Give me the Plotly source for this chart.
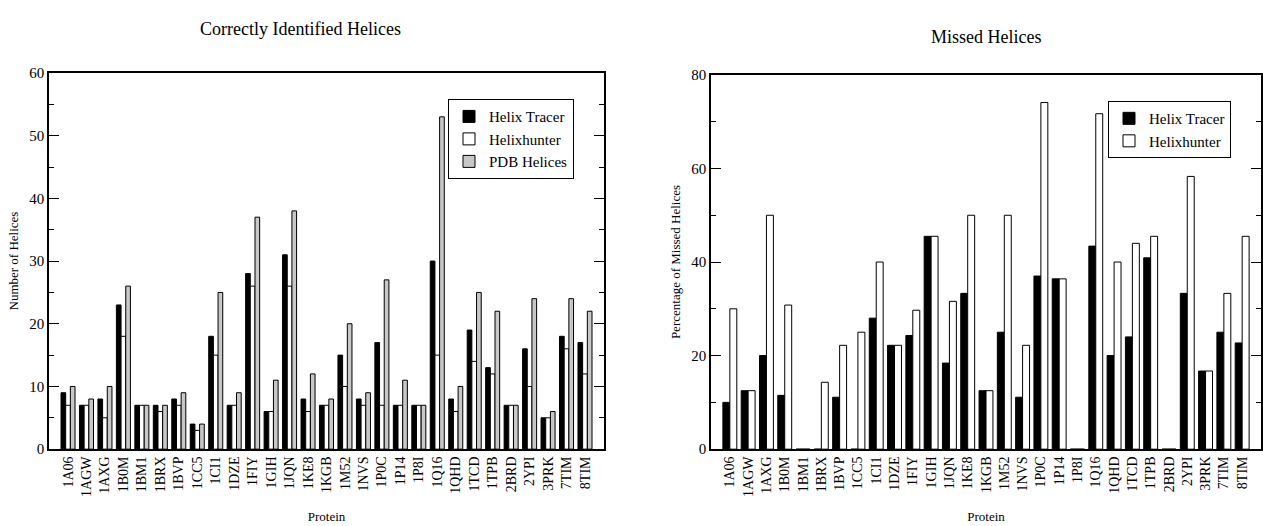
import plotly.graph_objects as go

proteins = ["1A06", "1AGW", "1AXG", "1B0M", "1BM1", "1BRX", "1BVP", "1CC5", "1CI1", "1DZE",
            "1FIY", "1GIH", "1JQN", "1KE8", "1KGB", "1M52", "1NVS", "1P0C", "1P14", "1P8I",
            "1Q16", "1QHD", "1TCD", "1TPB", "2BRD", "2YPI", "3PRK", "7TIM", "8TIM"]

tracer_found = [9, 7, 8, 23, 7, 7, 8, 4, 18, 7, 28, 6, 31, 8, 7, 15, 8, 17, 7, 7,
                30, 8, 19, 13, 7, 16, 5, 18, 17]
hunter_found = [7, 7, 5, 18, 7, 6, 7, 3, 15, 7, 26, 6, 26, 6, 7, 10, 7, 7, 7, 7,
                15, 6, 14, 12, 7, 10, 5, 16, 12]
pdb_helices = [10, 8, 10, 26, 7, 7, 9, 4, 25, 9, 37, 11, 38, 12, 8, 20, 9, 27, 11, 7,
               53, 10, 25, 22, 7, 24, 6, 24, 22]

tracer_missed = [10, 12.5, 20, 11.5, 0, 0, 11.1, 0, 28, 22.2, 24.3, 45.5, 18.4, 33.3, 12.5,
                 25, 11.1, 37, 36.4, 0, 43.4, 20, 24, 40.9, 0, 33.3, 16.7, 25, 22.7]
hunter_missed = [30, 12.5, 50, 30.8, 0, 14.3, 22.2, 25, 40, 22.2, 29.7, 45.5, 31.6, 50, 12.5,
                 50, 22.2, 74.1, 36.4, 0, 71.7, 40, 44, 45.5, 0, 58.3, 16.7, 33.3, 45.5]

xs = list(range(len(proteins)))
FONT = "Liberation Serif"

fig = go.Figure()
line = dict(color="black", width=1)

fig.add_trace(go.Bar(x=xs, y=tracer_found, name="Helix Tracer", marker=dict(color="black", line=line),
                     xaxis="x", yaxis="y", legend="legend", offsetgroup="a"))
fig.add_trace(go.Bar(x=xs, y=hunter_found, name="Helixhunter", marker=dict(color="white", line=line),
                     xaxis="x", yaxis="y", legend="legend", offsetgroup="b"))
fig.add_trace(go.Bar(x=xs, y=pdb_helices, name="PDB Helices",
                     marker=dict(color="white", line=line,
                                 pattern=dict(shape=".", fgcolor="#6a6a6a", bgcolor="#e0e0e0",
                                              size=2, solidity=0.5)),
                     xaxis="x", yaxis="y", legend="legend", offsetgroup="c"))

fig.add_trace(go.Bar(x=xs, y=tracer_missed, name="Helix Tracer", marker=dict(color="black", line=line),
                     xaxis="x2", yaxis="y2", legend="legend2", offsetgroup="a"))
fig.add_trace(go.Bar(x=xs, y=hunter_missed, name="Helixhunter", marker=dict(color="white", line=line),
                     xaxis="x2", yaxis="y2", legend="legend2", offsetgroup="b"))

xcommon = dict(tickmode="array", tickvals=xs, ticktext=proteins, tickangle=-90, range=[-1.03, 29.03],
               showline=True, linecolor="black", linewidth=1.5, mirror=True, ticks="",
               showgrid=False, zeroline=False,
               tickfont=dict(family=FONT, size=14, color="black"),
               title=dict(text="Protein", font=dict(family=FONT, size=13, color="black"), standoff=16))

ycommon = dict(showline=True, linecolor="black", linewidth=1.5, mirror="ticks", ticks="inside",
               ticklen=10, tickcolor="black", showgrid=False, zeroline=False,
               tickfont=dict(family=FONT, size=15, color="black"))

fig.update_layout(
    width=1263, height=526,
    margin=dict(l=0, r=0, t=0, b=0),
    paper_bgcolor="white", plot_bgcolor="white",
    barmode="group", bargap=0.24, bargroupgap=0,
    font=dict(family=FONT, color="black"),
    showlegend=True,
    xaxis=dict(domain=[49 / 1263, 604 / 1263], anchor="y", **xcommon),
    yaxis=dict(domain=[71 / 526, 459 / 526], anchor="x", range=[0, 60], dtick=10,
               minor=dict(ticks="inside", ticklen=5, dtick=5, tickcolor="black"),
               title=dict(text="Number of Helices", font=dict(family=FONT, size=13, color="black"),
                          standoff=8),
               **ycommon),
    xaxis2=dict(domain=[711 / 1263, 1261 / 1263], anchor="y2", **xcommon),
    yaxis2=dict(domain=[71 / 526, 457 / 526], anchor="x2", range=[0, 80], dtick=20,
                minor=dict(ticks="inside", ticklen=5, dtick=10, tickcolor="black"),
                title=dict(text="Percentage of Missed Helices",
                           font=dict(family=FONT, size=13, color="black"), standoff=8),
                **ycommon),
    legend=dict(x=448 / 1263, y=1 - 94 / 526, xanchor="left", yanchor="top",
                bordercolor="black", borderwidth=1, bgcolor="white",
                font=dict(family=FONT, size=15, color="black"), itemwidth=30,
                tracegroupgap=0),
    legend2=dict(x=1108 / 1263, y=1 - 96 / 526, xanchor="left", yanchor="top",
                 bordercolor="black", borderwidth=1, bgcolor="white",
                 font=dict(family=FONT, size=15, color="black"), itemwidth=30,
                 tracegroupgap=0),
    annotations=[
        dict(text="Correctly Identified Helices", x=300 / 1263, y=1 - 22 / 526, xref="paper", yref="paper",
             showarrow=False, xanchor="center", yanchor="middle",
             font=dict(family=FONT, size=18, color="black")),
        dict(text="Missed Helices", x=986 / 1263, y=1 - 30 / 526, xref="paper", yref="paper",
             showarrow=False, xanchor="center", yanchor="middle",
             font=dict(family=FONT, size=18, color="black")),
    ],
)

fig.write_html("out.html")
